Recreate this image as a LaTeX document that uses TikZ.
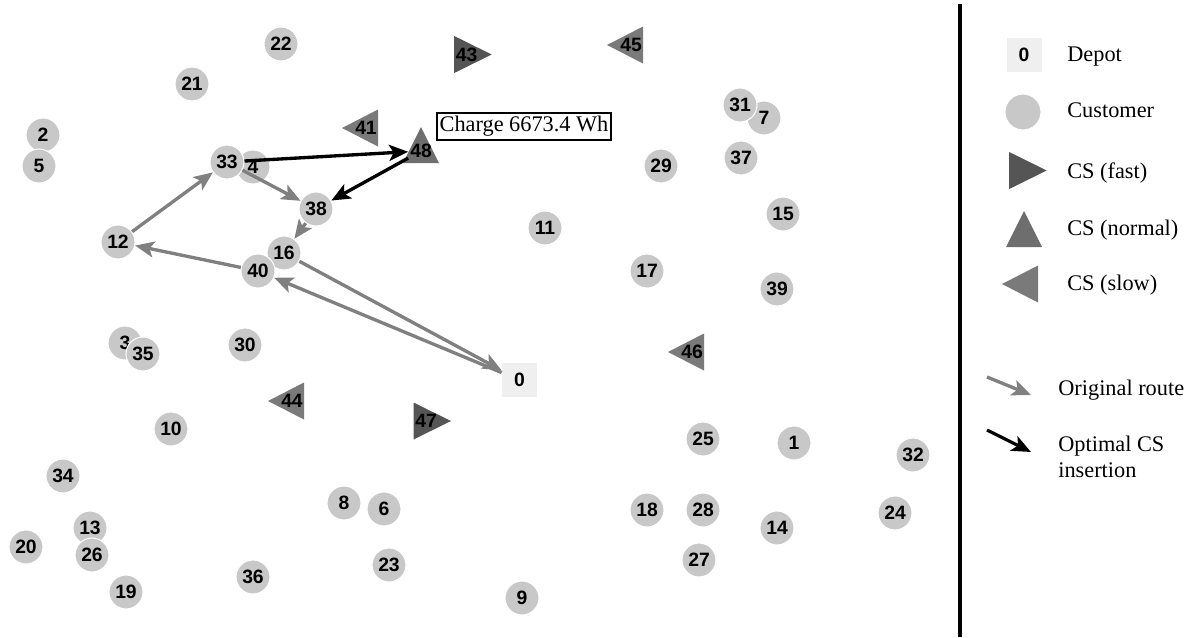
\documentclass[tikz,border=0pt]{standalone}
\usepackage{fontspec}
\setmainfont{Liberation Serif}
\newfontfamily\numfont{Liberation Sans}
\definecolor{CustGray}{RGB}{200,200,200}
\definecolor{DepotGray}{RGB}{239,239,239}
\definecolor{FastGray}{RGB}{85,85,85}
\definecolor{NormalGray}{RGB}{110,110,110}
\definecolor{SlowGray}{RGB}{122,122,122}
\definecolor{RouteGray}{RGB}{128,128,128}
\usetikzlibrary{arrows.meta}

\tikzset{
  fasttri/.pic={\fill[FastGray] (-12.5,-18.5) -- (-12.5,18.5) -- (25,0) -- cycle;},
  normaltri/.pic={\fill[NormalGray] (0,-24) -- (18,12) -- (-18,12) -- cycle;},
  slowtri/.pic={\fill[SlowGray] (12,-18.5) -- (12,18.5) -- (-24,0) -- cycle;}
}

\begin{document}
\begin{tikzpicture}[x=0.02cm, y=-0.02cm,
    cust/.style={circle, fill=CustGray, draw=white, line width=0.6pt, minimum size=0.68cm, inner sep=0pt, font=\numfont\bfseries\fontsize{11}{13}\selectfont},
    depot/.style={rectangle, fill=DepotGray, minimum width=0.7cm, minimum height=0.68cm, inner sep=0pt, font=\numfont\bfseries\fontsize{11}{13}\selectfont},
    cslab/.style={inner sep=1pt, font=\numfont\bfseries\fontsize{11}{13}\selectfont},
    legtext/.style={anchor=west, align=left, inner sep=0pt, font=\fontsize{12.7}{15}\selectfont},
    route/.style={RouteGray, line width=1.9pt, -{Stealth[length=3.8mm, width=3.2mm, inset=0.9mm]}},
    insert/.style={black, line width=1.9pt, -{Stealth[length=3.8mm, width=3.2mm, inset=0.9mm]}}]
  \useasboundingbox (0,0) rectangle (1191,637);

  % depot
  \node[depot] (n0) at (519.5,380) {0};

  % customers
  \node[cust] (n1) at (794,443) {1};
  \node[cust] (n2) at (43,135) {2};
  \node[cust] (n3) at (125,343) {3};
  \node[cust] (n4) at (253,167) {4};
  \node[cust] (n5) at (39,166) {5};
  \node[cust] (n6) at (384,509) {6};
  \node[cust] (n7) at (764,118) {7};
  \node[cust] (n8) at (344,503) {8};
  \node[cust] (n9) at (522,598) {9};
  \node[cust] (n10) at (171,429) {10};
  \node[cust] (n11) at (545,228) {11};
  \node[cust] (n12) at (118,242) {12};
  \node[cust] (n13) at (90,528) {13};
  \node[cust] (n14) at (777,528) {14};
  \node[cust] (n15) at (783,214) {15};
  \node[cust] (n16) at (284,253) {16};
  \node[cust] (n17) at (647,271) {17};
  \node[cust] (n18) at (647,510) {18};
  \node[cust] (n19) at (126,592) {19};
  \node[cust] (n20) at (26,547) {20};
  \node[cust] (n21) at (192,84) {21};
  \node[cust] (n22) at (281,44) {22};
  \node[cust] (n23) at (389,565) {23};
  \node[cust] (n24) at (895,513) {24};
  \node[cust] (n25) at (703,439) {25};
  \node[cust] (n26) at (92,555) {26};
  \node[cust] (n27) at (699,560) {27};
  \node[cust] (n28) at (703,510) {28};
  \node[cust] (n29) at (661,166) {29};
  \node[cust] (n30) at (245,345) {30};
  \node[cust] (n31) at (740,105) {31};
  \node[cust] (n32) at (913,455) {32};
  \node[cust] (n33) at (227,162) {33};
  \node[cust] (n34) at (63,476) {34};
  \node[cust] (n35) at (143,354) {35};
  \node[cust] (n36) at (253,577) {36};
  \node[cust] (n37) at (741,158) {37};
  \node[cust] (n38) at (316,209) {38};
  \node[cust] (n39) at (777,289) {39};
  \node[cust] (n40) at (258,271) {40};

  % charging stations
  \pic at (366,128) {slowtri};    \node[cslab] (n41) at (366,128) {41};
  \pic at (466.7,54.5) {fasttri}; \node[cslab] (n43) at (466.7,54.5) {43};
  \pic at (292,401) {slowtri};    \node[cslab] (n44) at (292,401) {44};
  \pic at (631,45) {slowtri};     \node[cslab] (n45) at (631,45) {45};
  \pic at (692,352) {slowtri};    \node[cslab] (n46) at (692,352) {46};
  \pic at (426,421) {fasttri};    \node[cslab] (n47) at (426,421) {47};
  \pic at (421,151) {normaltri};  \node[cslab] (n48) at (421,151) {48};

  \node[draw, line width=0.6pt, inner sep=1.5pt, minimum height=0.54cm, font=\fontsize{12.7}{15}\selectfont] (chg) at (524,126.5) {Charge 6673.4 Wh};

  % original route
  \draw[route] (n0) -- (n40);
  \draw[route] (n40) -- (n12);
  \draw[route] (n12) -- (n33);
  \draw[route] (n33) -- (n38);
  \draw[route] (n38) -- (n16);
  \draw[route] (n16) -- (n0);

  % optimal CS insertion
  \draw[insert] (n33) -- (n48);
  \draw[insert] (n48) -- (n38);

  % legend
  \draw[line width=2.2pt] (960,4) -- (960,637);
  \node[depot] (ldepot) at (1024,55) {0};
  \node[legtext] (tdepot) at (1067,57) {Depot};
  \node[cust, minimum size=0.72cm] (lcust) at (1023,112) {};
  \node[legtext] (tcust) at (1067,110) {Customer};
  \pic at (1021.7,170.5) {fasttri};
  \node[legtext] (tfast) at (1067,173) {CS (fast)};
  \pic at (1024,235) {normaltri};
  \node[legtext] (tnormal) at (1067,230) {CS (normal)};
  \pic at (1026,284) {slowtri};
  \node[legtext] (tslow) at (1067,285) {CS (slow)};
  \coordinate (r1) at (987,377);
  \coordinate (r2) at (1031,395);
  \draw[route] (r1) -- (r2);
  \node[legtext] (troute) at (1058,390) {Original route};
  \coordinate (o1) at (987,430);
  \coordinate (o2) at (1031,452);
  \draw[insert] (o1) -- (o2);
  \node[legtext] (topt) at (1058,457) {Optimal CS\\insertion};
\end{tikzpicture}
\end{document}
